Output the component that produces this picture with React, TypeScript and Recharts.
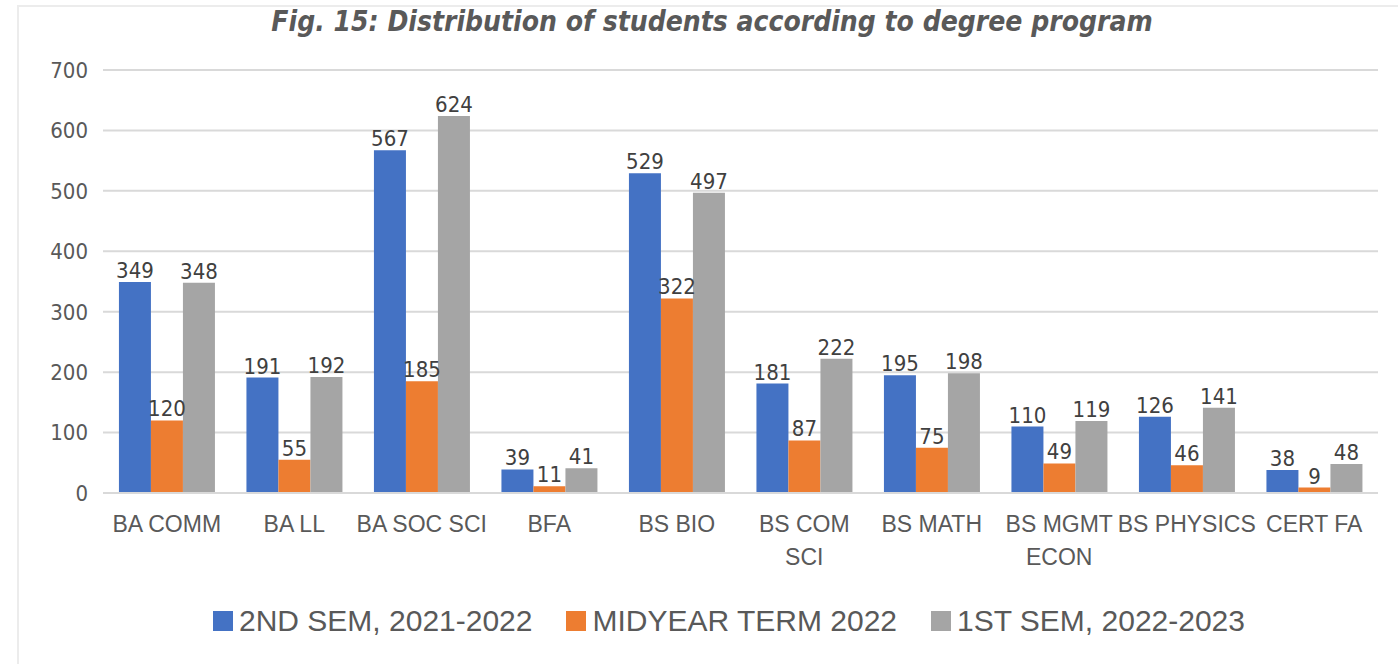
import { BarChart, Bar, XAxis, YAxis, CartesianGrid, LabelList } from 'recharts';

const programs = ['BA COMM', 'BA LL', 'BA SOC SCI', 'BFA', 'BS BIO', 'BS COM\nSCI', 'BS MATH', 'BS MGMT\nECON', 'BS PHYSICS', 'CERT FA'];
const sem2_2122 = [349, 191, 567, 39, 529, 181, 195, 110, 126, 38];
const midyear2022 = [120, 55, 185, 11, 322, 87, 75, 49, 46, 9];
const sem1_2223 = [348, 192, 624, 41, 497, 222, 198, 119, 141, 48];
const yTicks = [0, 100, 200, 300, 400, 500, 600, 700];

const series = [
  { key: 'a', name: '2ND SEM, 2021-2022', color: '#4472C4' },
  { key: 'b', name: 'MIDYEAR TERM 2022', color: '#ED7D31' },
  { key: 'c', name: '1ST SEM, 2022-2023', color: '#A5A5A5' },
];

const data = programs.map((p, i) => ({
  program: p,
  a: sem2_2122[i],
  b: midyear2022[i],
  c: sem1_2223[i],
}));

const narrow = '"DejaVu Sans Condensed", sans-serif';
const sans = '"Liberation Sans", Arial, sans-serif';

function ProgramTick(props: any) {
  const { x, y, payload } = props;
  const lines = String(payload.value).split('\n');
  return (
    <text x={x} y={y} textAnchor="middle" fill="#595959" fontFamily={sans} fontSize={23}>
      {lines.map((l, i) => (
        <tspan key={i} x={x} dy={i === 0 ? 31 : 33}>{l}</tspan>
      ))}
    </text>
  );
}

export default function App() {
  return (
    <div style={{ position: 'absolute', left: 0, top: 0, width: 1398, height: 664, background: '#fff' }}>
      <div style={{ position: 'absolute', left: 17, top: 5, width: 1400, height: 700, borderLeft: '2px solid #ececec', borderTop: '2px solid #ececec' }} />
      <div style={{ position: 'absolute', left: 0, top: 5, width: 1424, textAlign: 'center', fontFamily: narrow, fontStyle: 'italic', fontWeight: 'bold', fontSize: 28, color: '#595959' }}>
        Fig. 15: Distribution of students according to degree program
      </div>
      <div style={{ position: 'absolute', left: 0, top: 0 }}>
        <BarChart width={1398} height={600} data={data} margin={{ top: 70, right: 20, left: 0, bottom: 0 }} barCategoryGap="12.5%" barGap={0}>
          <CartesianGrid vertical={false} stroke="#d9d9d9" strokeWidth={2} />
          <XAxis dataKey="program" tick={<ProgramTick />} tickLine={false} axisLine={{ stroke: '#d9d9d9', strokeWidth: 2 }} height={107} interval={0} />
          <YAxis domain={[0, 700]} ticks={yTicks} width={103} tickLine={false} axisLine={false} tickSize={0} tickMargin={15}
            tick={{ fill: '#595959', fontFamily: narrow, fontSize: 22 }} />
          {series.map((s) => (
            <Bar key={s.key} dataKey={s.key} name={s.name} fill={s.color} isAnimationActive={false}>
              <LabelList dataKey={s.key} position="top" offset={4} fill="#404040" fontFamily={narrow} fontSize={22} />
            </Bar>
          ))}
        </BarChart>
      </div>
      <div style={{ position: 'absolute', left: 0, top: 604, width: 1458, display: 'flex', justifyContent: 'center', fontFamily: sans, fontSize: 30, color: '#595959' }}>
        {series.map((s) => (
          <div key={s.key} style={{ display: 'flex', alignItems: 'center', margin: '0 17px' }}>
            <span style={{ display: 'inline-block', width: 20, height: 20, background: s.color, marginRight: 6 }} />
            <span>{s.name}</span>
          </div>
        ))}
      </div>
    </div>
  );
}
